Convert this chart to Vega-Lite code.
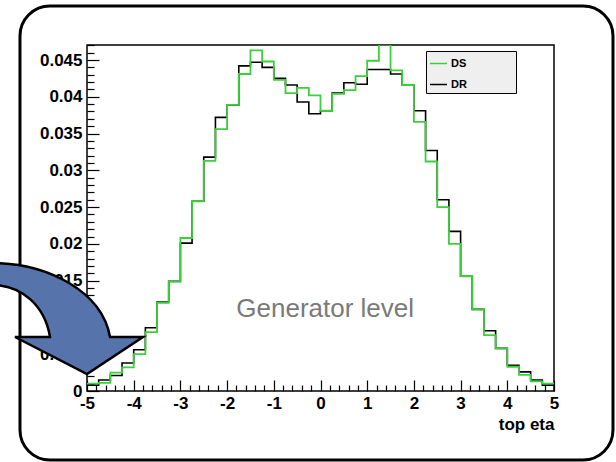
{
  "$schema": "https://vega.github.io/schema/vega-lite/v6.json",
  "width": 467,
  "height": 346,
  "autosize": {"type": "none"},
  "padding": {"left": 87, "top": 45, "right": 62, "bottom": 71},
  "background": "white",
  "config": {
    "view": {"stroke": "#000000", "strokeWidth": 1.5},
    "font": "Liberation Sans",
    "axisX": {
      "tickCount": 50,
      "ticks": false,
      "grid": true,
      "gridColor": "#000000",
      "gridOpacity": 1,
      "gridWidth": 1.2,
      "gridDash": {"condition": {"test": "abs(datum.value - round(datum.value)) < 0.001", "value": [0, 335, 11, 2000]}, "value": [0, 340, 6, 2000]},
      "labelExpr": "abs(datum.value - round(datum.value)) < 0.001 ? '' + round(datum.value) : ''",
      "labelPadding": 4,
      "labelFont": "Liberation Sans",
      "labelFontWeight": "bold",
      "labelFontSize": 17,
      "labelColor": "#000000",
      "labelOverlap": false,
      "labelBound": false,
      "labelFlush": false,
      "domain": false,
      "titleFont": "Liberation Sans",
      "titleFontWeight": "bold",
      "titleFontSize": 17,
      "titleColor": "#000000",
      "titleAnchor": "end",
      "titleAlign": "right",
      "titlePadding": 5
    },
    "axisY": {
      "tickCount": 47,
      "ticks": false,
      "grid": true,
      "gridColor": "#000000",
      "gridOpacity": 1,
      "gridWidth": 1.2,
      "gridDash": {"condition": {"test": "abs(datum.value * 200 - round(datum.value * 200)) < 0.001", "value": [12, 2000]}, "value": [7, 2000]},
      "labelExpr": "abs(datum.value * 200 - round(datum.value * 200)) < 0.001 ? format(datum.value, '~g') : ''",
      "labelPadding": 5,
      "labelFont": "Liberation Sans",
      "labelFontWeight": "bold",
      "labelFontSize": 17,
      "labelColor": "#000000",
      "labelOverlap": false,
      "labelBound": false,
      "labelFlush": false,
      "domain": false
    }
  },
  "layer": [
    {
      "data": {
        "values": [
          {"eta": -5, "DS": 0.0010, "DR": 0.0008},
          {"eta": -4.75, "DS": 0.0011, "DR": 0.0015},
          {"eta": -4.5, "DS": 0.0025, "DR": 0.0021},
          {"eta": -4.25, "DS": 0.0032, "DR": 0.0038},
          {"eta": -4, "DS": 0.0050, "DR": 0.0056},
          {"eta": -3.75, "DS": 0.0080, "DR": 0.0086},
          {"eta": -3.5, "DS": 0.0120, "DR": 0.0121},
          {"eta": -3.25, "DS": 0.0149, "DR": 0.0149},
          {"eta": -3, "DS": 0.0208, "DR": 0.0201},
          {"eta": -2.75, "DS": 0.0258, "DR": 0.0258},
          {"eta": -2.5, "DS": 0.0313, "DR": 0.0318},
          {"eta": -2.25, "DS": 0.0356, "DR": 0.0372},
          {"eta": -2, "DS": 0.0389, "DR": 0.0389},
          {"eta": -1.75, "DS": 0.0431, "DR": 0.0442},
          {"eta": -1.5, "DS": 0.0463, "DR": 0.0447},
          {"eta": -1.25, "DS": 0.0448, "DR": 0.0440},
          {"eta": -1, "DS": 0.0423, "DR": 0.0425},
          {"eta": -0.75, "DS": 0.0405, "DR": 0.0416},
          {"eta": -0.5, "DS": 0.0412, "DR": 0.0393},
          {"eta": -0.25, "DS": 0.0402, "DR": 0.0377},
          {"eta": 0, "DS": 0.0381, "DR": 0.0381},
          {"eta": 0.25, "DS": 0.0404, "DR": 0.0405},
          {"eta": 0.5, "DS": 0.0409, "DR": 0.0419},
          {"eta": 0.75, "DS": 0.0428, "DR": 0.0417},
          {"eta": 1, "DS": 0.0449, "DR": 0.0437},
          {"eta": 1.25, "DS": 0.0471, "DR": 0.0437},
          {"eta": 1.5, "DS": 0.0436, "DR": 0.0431},
          {"eta": 1.75, "DS": 0.0416, "DR": 0.0416},
          {"eta": 2, "DS": 0.0366, "DR": 0.0381},
          {"eta": 2.25, "DS": 0.0312, "DR": 0.0327},
          {"eta": 2.5, "DS": 0.0250, "DR": 0.0260},
          {"eta": 2.75, "DS": 0.0200, "DR": 0.0217},
          {"eta": 3, "DS": 0.0156, "DR": 0.0156},
          {"eta": 3.25, "DS": 0.0111, "DR": 0.0111},
          {"eta": 3.5, "DS": 0.0076, "DR": 0.0082},
          {"eta": 3.75, "DS": 0.0058, "DR": 0.0058},
          {"eta": 4, "DS": 0.0033, "DR": 0.0035},
          {"eta": 4.25, "DS": 0.0022, "DR": 0.0026},
          {"eta": 4.5, "DS": 0.0013, "DR": 0.0015},
          {"eta": 4.75, "DS": 0.0010, "DR": 0.0008},
          {"eta": 5, "DS": 0.0010, "DR": 0.0008}
        ]
      },
      "transform": [{"fold": ["DS", "DR"], "as": ["series", "value"]}],
      "encoding": {
        "x": {
          "field": "eta",
          "type": "quantitative",
          "scale": {"domain": [-5, 5], "nice": false, "zero": false},
          "title": "top eta"
        },
        "y": {
          "field": "value",
          "type": "quantitative",
          "scale": {"domain": [0, 0.04704], "nice": false},
          "title": null
        },
        "color": {
          "field": "series",
          "type": "nominal",
          "scale": {"domain": ["DS", "DR"], "range": ["#3ccf3c", "#000000"]},
          "legend": {
            "orient": "none",
            "legendX": 339,
            "legendY": 6,
            "title": null,
            "fillColor": "#efefef",
            "strokeColor": "#000000",
            "padding": 3,
            "symbolType": "stroke",
            "symbolSize": 289,
            "symbolStrokeWidth": 1.5,
            "labelFont": "Liberation Sans",
            "labelFontWeight": "bold",
            "labelFontSize": 11,
            "labelColor": "#000000",
            "labelOffset": 3,
            "rowPadding": 6,
            "labelExpr": "datum.label + '               \u200b'"
          }
        }
      },
      "layer": [
        {
          "transform": [{"filter": "datum.series == 'DR'"}],
          "mark": {"type": "line", "interpolate": "step-after", "clip": true, "strokeWidth": 1.6}
        },
        {
          "transform": [{"filter": "datum.series == 'DS'"}],
          "mark": {"type": "line", "interpolate": "step-after", "clip": true, "strokeWidth": 1.8}
        }
      ]
    },
    {
      "data": {"values": [{}]},
      "mark": {"type": "rect", "cornerRadius": 30, "filled": false, "stroke": "#000000", "strokeWidth": 3, "clip": false},
      "encoding": {
        "x": {"datum": -6.435, "type": "quantitative"},
        "x2": {"datum": 6.263},
        "y": {"datum": 0.05234, "type": "quantitative"},
        "y2": {"datum": -0.00938}
      }
    },
    {
      "data": {"values": [{}]},
      "mark": {"type": "text", "font": "Liberation Sans", "fontSize": 26, "color": "#7a7a7a", "align": "center", "baseline": "alphabetic"},
      "encoding": {
        "x": {"datum": 0.1, "type": "quantitative"},
        "y": {"datum": 0.0101, "type": "quantitative"},
        "text": {"value": "Generator level"}
      }
    },
    {
      "data": {"values": [{}]},
      "mark": {
        "type": "point",
        "shape": "M -95 -128 C -40 -128 15 -100 23 -54 L 56 -54 L 0 -17 L -72 -54 L -37 -54 C -42 -85 -65 -106 -95 -106 Z",
        "size": 4,
        "filled": true,
        "fill": "#5673ab",
        "stroke": "#000000",
        "strokeWidth": 2.5,
        "opacity": 1,
        "fillOpacity": 1,
        "strokeOpacity": 1,
        "clip": false
      },
      "encoding": {
        "x": {"datum": -5, "type": "quantitative"},
        "y": {"datum": 0, "type": "quantitative"}
      }
    }
  ]
}
